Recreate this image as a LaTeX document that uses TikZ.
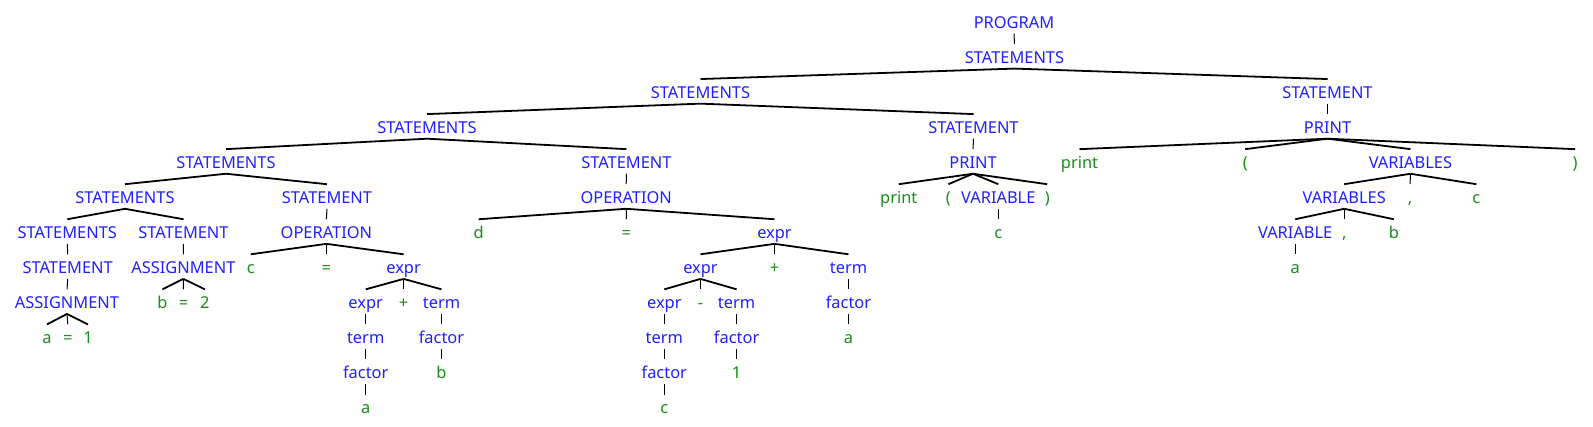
\documentclass[tikz,border=0pt]{standalone}
\usepackage{fontspec}
\setmainfont{Noto Sans}
\usepackage{xcolor}
\usepackage{tikz}
\definecolor{ntblue}{RGB}{32,32,255}
\definecolor{tkgreen}{RGB}{24,140,24}

\begin{document}
\begin{tikzpicture}[
		x=0.5pt, y=-17.525pt,
		sym/.style={inner sep=0pt, outer sep=0pt, anchor=base, text height=9.7pt,
			text depth=2.6pt, font=\fontsize{8.2}{9}\selectfont},
		nonterm/.style={sym, text=ntblue},
		token/.style={sym, text=tkgreen},
		stem/.style={line width=0.5pt},
		branch/.style={line width=0.9pt},
		]
		\useasboundingbox (0,-0.8088) rectangle (1593,11.3738);
		
		% top levels
		\node[nonterm] (prog) at (1014,0) {PROGRAM};
		\node[nonterm] (s1) at (1014.5,1) {STATEMENTS};
		\node[nonterm] (s2) at (700.5,2) {STATEMENTS};
		\node[nonterm] (st2) at (1327.5,2) {STATEMENT};
		\node[nonterm] (s3) at (427,3) {STATEMENTS};
		\node[nonterm] (st3) at (973.5,3) {STATEMENT};
		\node[nonterm] (pr3) at (1327.5,3) {PRINT};
		\node[nonterm] (s4) at (226,4) {STATEMENTS};
		\node[nonterm] (st4) at (626.4,4) {STATEMENT};
		\node[nonterm] (pr4) at (973,4) {PRINT};
		\node[token] (kw4) at (1079.5,4) {print};
		\node[token] (lp4) at (1245.2,4) {(};
		\node[nonterm] (vs4) at (1410.4,4) {VARIABLES};
		\node[token] (rp4) at (1575,4) {)};
		\node[nonterm] (s5) at (125,5) {STATEMENTS};
		\node[nonterm] (st5) at (327,5) {STATEMENT};
		\node[nonterm] (op5) at (626.2,5) {OPERATION};
		\node[token] (kw5) at (898.8,5) {print};
		\node[token] (lp5) at (948.4,5) {(};
		\node[nonterm] (var5) at (998.3,5) {VARIABLE};
		\node[token] (rp5) at (1047.2,5) {)};
		\node[nonterm] (vs5) at (1344.2,5) {VARIABLES};
		\node[token] (cm5) at (1410.1,5) {,};
		\node[token] (c5) at (1476.4,5) {c};
		
		% lower levels
		\node[nonterm] (s6) at (67.3,6) {STATEMENTS};
		\node[nonterm] (st6) at (183.5,6) {STATEMENT};
		\node[nonterm] (op6) at (326.4,6) {OPERATION};
		\node[token] (d6) at (478.6,6) {d};
		\node[token] (eq6) at (626.4,6) {=};
		\node[nonterm] (ex6) at (774.5,6) {expr};
		\node[token] (c6) at (998.3,6) {c};
		\node[nonterm] (var6) at (1295.2,6) {VARIABLE};
		\node[token] (cm6) at (1344.2,6) {,};
		\node[token] (b6) at (1393.8,6) {b};
		\node[nonterm] (st7) at (67.7,7) {STATEMENT};
		\node[nonterm] (as7) at (183.4,7) {ASSIGNMENT};
		\node[token] (c7) at (250.7,7) {c};
		\node[token] (eq7) at (326.4,7) {=};
		\node[nonterm] (ex7) at (403.6,7) {expr};
		\node[nonterm] (ex7b) at (700.5,7) {expr};
		\node[token] (pl7) at (774.5,7) {+};
		\node[nonterm] (tm7) at (848.5,7) {term};
		\node[token] (a7) at (1295.2,7) {a};
		\node[nonterm] (as8) at (67,8) {ASSIGNMENT};
		\node[token] (b8) at (162.5,8) {b};
		\node[token] (eq8) at (183.5,8) {=};
		\node[token] (n8) at (204.9,8) {2};
		\node[nonterm] (ex8) at (365.7,8) {expr};
		\node[token] (pl8) at (403.6,8) {+};
		\node[nonterm] (tm8) at (441.5,8) {term};
		\node[nonterm] (ex8b) at (664.3,8) {expr};
		\node[token] (mi8) at (700.5,8) {-};
		\node[nonterm] (tm8b) at (736.6,8) {term};
		\node[nonterm] (fa8) at (848.5,8) {factor};
		\node[token] (a9) at (47,9) {a};
		\node[token] (eq9) at (67.8,9) {=};
		\node[token] (n9) at (88,9) {1};
		\node[nonterm] (tm9) at (365.7,9) {term};
		\node[nonterm] (fa9) at (441.5,9) {factor};
		\node[nonterm] (tm9b) at (664.3,9) {term};
		\node[nonterm] (fa9b) at (736.6,9) {factor};
		\node[token] (a9b) at (848.5,9) {a};
		\node[nonterm] (fa10) at (365.7,10) {factor};
		\node[token] (b10) at (441.5,10) {b};
		\node[nonterm] (fa10b) at (664.3,10) {factor};
		\node[token] (n10) at (736.6,10) {1};
		\node[token] (a11) at (365.7,11) {a};
		\node[token] (c11) at (664.3,11) {c};
		
		% edges
		\draw[stem] (prog.south) -- (s1.north);
		\draw[branch] (s1.south) -- (s2.north);
		\draw[branch] (s1.south) -- (st2.north);
		\draw[branch] (s2.south) -- (s3.north);
		\draw[branch] (s2.south) -- (st3.north);
		\draw[stem] (st2.south) -- (pr3.north);
		\draw[branch] (s3.south) -- (s4.north);
		\draw[branch] (s3.south) -- (st4.north);
		\draw[stem] (st3.south) -- (pr4.north);
		\draw[branch] (pr3.south) -- (kw4.north);
		\draw[branch] (pr3.south) -- (lp4.north);
		\draw[branch] (pr3.south) -- (vs4.north);
		\draw[branch] (pr3.south) -- (rp4.north);
		\draw[branch] (s4.south) -- (s5.north);
		\draw[branch] (s4.south) -- (st5.north);
		\draw[stem] (st4.south) -- (op5.north);
		\draw[branch] (pr4.south) -- (kw5.north);
		\draw[branch] (pr4.south) -- (lp5.north);
		\draw[branch] (pr4.south) -- (var5.north);
		\draw[branch] (pr4.south) -- (rp5.north);
		\draw[branch] (vs4.south) -- (vs5.north);
		\draw[stem] (vs4.south) -- (cm5.north);
		\draw[branch] (vs4.south) -- (c5.north);
		\draw[branch] (s5.south) -- (s6.north);
		\draw[branch] (s5.south) -- (st6.north);
		\draw[stem] (st5.south) -- (op6.north);
		\draw[branch] (op5.south) -- (d6.north);
		\draw[stem] (op5.south) -- (eq6.north);
		\draw[branch] (op5.south) -- (ex6.north);
		\draw[stem] (var5.south) -- (c6.north);
		\draw[branch] (vs5.south) -- (var6.north);
		\draw[stem] (vs5.south) -- (cm6.north);
		\draw[branch] (vs5.south) -- (b6.north);
		\draw[stem] (s6.south) -- (st7.north);
		\draw[stem] (st6.south) -- (as7.north);
		\draw[branch] (op6.south) -- (c7.north);
		\draw[stem] (op6.south) -- (eq7.north);
		\draw[branch] (op6.south) -- (ex7.north);
		\draw[branch] (ex6.south) -- (ex7b.north);
		\draw[stem] (ex6.south) -- (pl7.north);
		\draw[branch] (ex6.south) -- (tm7.north);
		\draw[stem] (var6.south) -- (a7.north);
		\draw[stem] (st7.south) -- (as8.north);
		\draw[branch] (as7.south) -- (b8.north);
		\draw[stem] (as7.south) -- (eq8.north);
		\draw[branch] (as7.south) -- (n8.north);
		\draw[branch] (ex7.south) -- (ex8.north);
		\draw[stem] (ex7.south) -- (pl8.north);
		\draw[branch] (ex7.south) -- (tm8.north);
		\draw[branch] (ex7b.south) -- (ex8b.north);
		\draw[stem] (ex7b.south) -- (mi8.north);
		\draw[branch] (ex7b.south) -- (tm8b.north);
		\draw[stem] (tm7.south) -- (fa8.north);
		\draw[branch] (as8.south) -- (a9.north);
		\draw[stem] (as8.south) -- (eq9.north);
		\draw[branch] (as8.south) -- (n9.north);
		\draw[stem] (ex8.south) -- (tm9.north);
		\draw[stem] (tm8.south) -- (fa9.north);
		\draw[stem] (ex8b.south) -- (tm9b.north);
		\draw[stem] (tm8b.south) -- (fa9b.north);
		\draw[stem] (fa8.south) -- (a9b.north);
		\draw[stem] (tm9.south) -- (fa10.north);
		\draw[stem] (fa9.south) -- (b10.north);
		\draw[stem] (tm9b.south) -- (fa10b.north);
		\draw[stem] (fa9b.south) -- (n10.north);
		\draw[stem] (fa10.south) -- (a11.north);
		\draw[stem] (fa10b.south) -- (c11.north);
	\end{tikzpicture}
\end{document}
